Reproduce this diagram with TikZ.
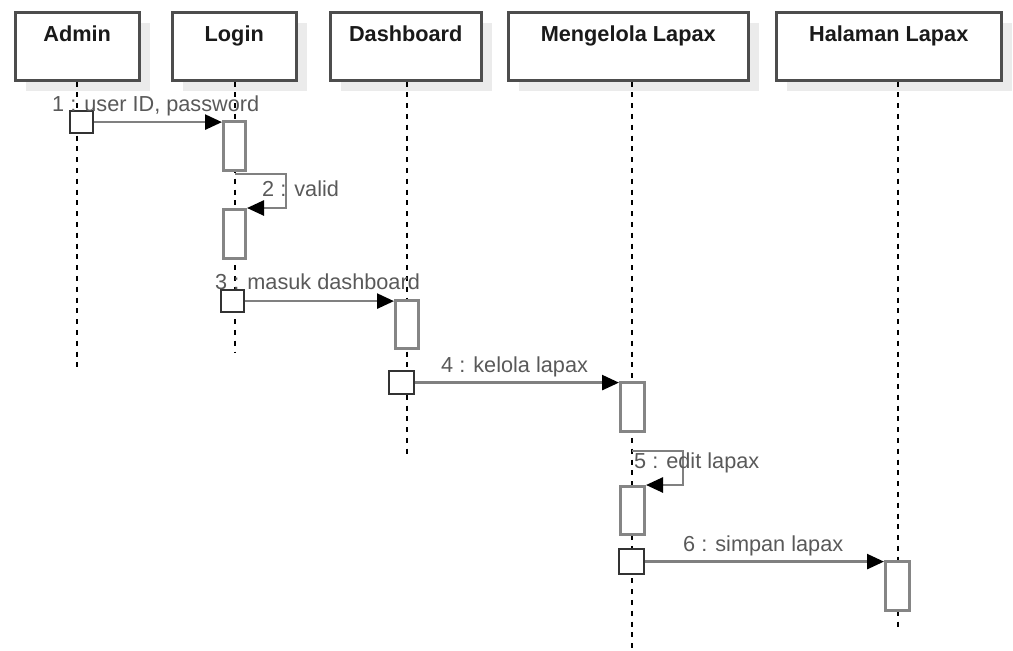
\documentclass[tikz,border=0pt]{standalone}
\usepackage{fontspec}
\setmainfont{Liberation Sans}
\usetikzlibrary{arrows.meta,shadows}
\definecolor{headborder}{HTML}{4D4D4D}
\definecolor{headtxt}{HTML}{1A1A1A}
\definecolor{shadowc}{HTML}{EBEBEB}
\definecolor{actc}{HTML}{858585}
\definecolor{smallc}{HTML}{333333}
\definecolor{msgc}{HTML}{808080}
\definecolor{labc}{HTML}{595959}
\tikzset{
  head/.style={draw=headborder, line width=2.5pt, fill=white, anchor=north west,
    minimum height=68pt, inner sep=0pt,
    general shadow={fill=shadowc, shadow xshift=11pt, shadow yshift=-11pt}},
  headtext/.style={font={\fontsize{21.7pt}{26pt}\selectfont\bfseries}, text=headtxt,
    anchor=north, inner sep=0pt, yshift=-15pt},
  life/.style={draw=black, line width=1.8pt, dash pattern=on 5pt off 5.8pt},
  act/.style={draw=actc, line width=3pt, fill=white, anchor=north west,
    minimum width=22pt, inner sep=0pt},
  small/.style={draw=smallc, line width=2.2pt, fill=white, anchor=north west,
    minimum width=23pt, minimum height=22pt, inner sep=0pt},
  msg/.style={draw=msgc, line width=2.6pt,
    -{Triangle[length=17pt,width=15pt,color=black]}},
  lab/.style={font={\fontsize{21.7pt}{26pt}\selectfont}, text=labc,
    anchor=base west, inner sep=0pt}
}
\begin{document}
\begin{tikzpicture}[x=1pt,y=-1pt]
\useasboundingbox (0,0) rectangle (1013,651);
% headers
\node[head, minimum width=124pt, label={[headtext]north:Admin}] (admin) at (14,11) {};
\node[head, minimum width=124pt, label={[headtext]north:Login}] (login) at (171,11) {};
\node[head, minimum width=151pt, label={[headtext]north:Dashboard}] (dash) at (329,11) {};
\node[head, minimum width=240pt, label={[headtext]north:Mengelola Lapax}] (meng) at (507,11) {};
\node[head, minimum width=225pt, label={[headtext]north:Halaman Lapax}] (hal) at (775,11) {};
% lifeline ends
\coordinate (adminEnd) at (77,372);
\coordinate (loginEnd) at (235,353);
\coordinate (dashEnd) at (407,455);
\coordinate (mengEnd) at (632,651);
\coordinate (halEnd) at (898,632);
\draw[life] (adminEnd |- admin.south) -- (adminEnd);
\draw[life] (loginEnd |- login.south) -- (loginEnd);
\draw[life] (dashEnd |- dash.south) -- (dashEnd);
\draw[life] (mengEnd |- meng.south) -- (mengEnd);
\draw[life] (halEnd |- hal.south) -- (halEnd);
% activations
\node[small] (s1) at (69,110) {};
\node[act, minimum height=49pt] (a1) at (222,120) {};
\node[act, minimum height=49pt] (a2) at (222,208) {};
\node[small] (s3) at (220,289) {};
\node[act, minimum width=23pt, minimum height=48pt] (a3) at (394,299) {};
\node[small, minimum width=25pt, minimum height=23pt] (s4) at (388,370) {};
\node[act, minimum width=24pt, minimum height=49pt] (a4) at (619,381) {};
\node[act, minimum width=24pt, minimum height=48pt] (a5) at (619,485) {};
\node[small, minimum width=25pt, minimum height=25pt] (s6) at (618,548) {};
\node[act, minimum width=24pt, minimum height=49pt] (a6) at (884,560) {};
% messages
\coordinate (m2s) at (235,174);
\coordinate (m5s) at (632,451);
\draw[msg] (s1.east) -- (s1.east -| a1.west);
\draw[msg] (m2s) -- ++(51,0) |- (a2.north east);
\draw[msg] (s3.east) -- (s3.east -| a3.west);
\draw[msg] (s4.east) -- (s4.east -| a4.west);
\draw[msg] (m5s) -- ++(51,0) |- (a5.north east);
\draw[msg] (s6.east) -- (s6.east -| a6.west);
% labels
\node[lab] (l1) at (52,111) {1 : user ID, password};
\node[lab] (l2) at (262,196) {2 : valid};
\node[lab] (l3) at (215,289) {3 : masuk dashboard};
\node[lab] (l4) at (441,372) {4 : kelola lapax};
\node[lab] (l5) at (634,468) {5 : edit lapax};
\node[lab] (l6) at (683,551) {6 : simpan lapax};
\end{tikzpicture}
\end{document}
